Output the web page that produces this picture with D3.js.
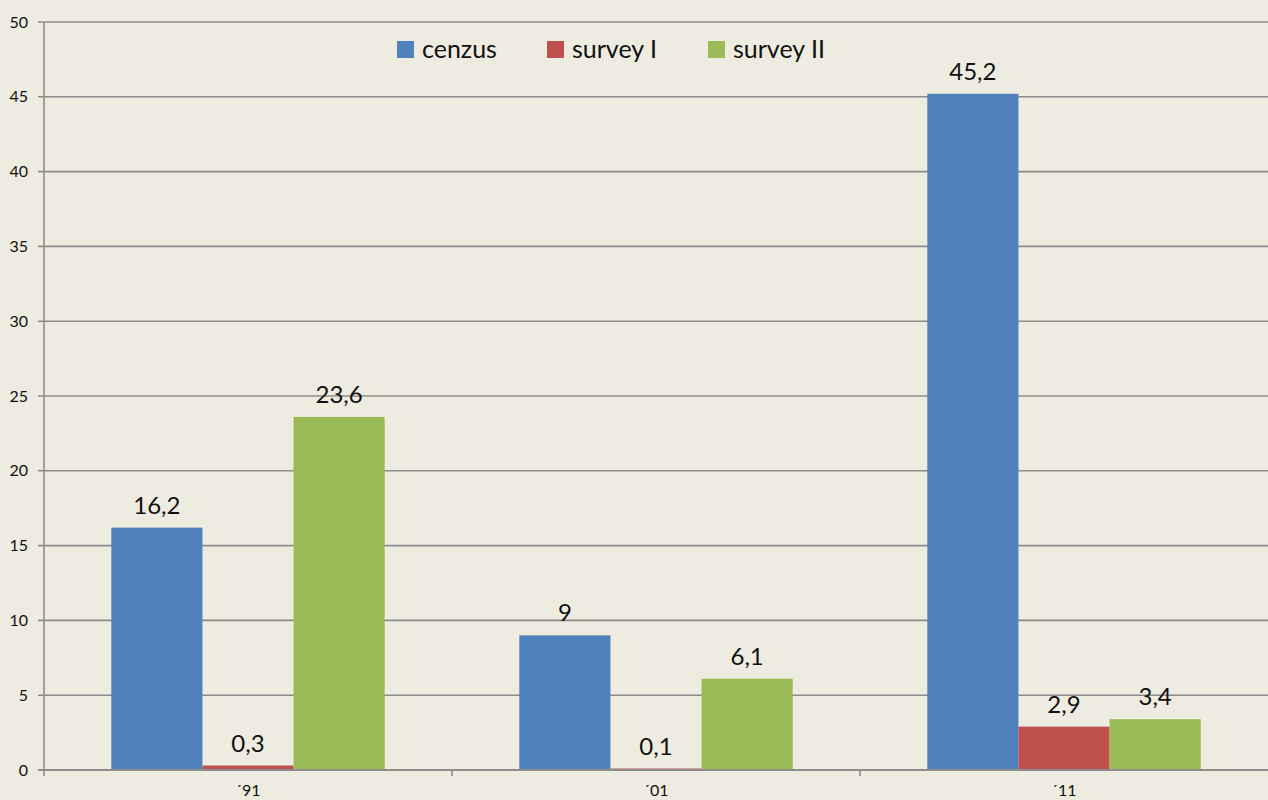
<!DOCTYPE html>
<html><head><meta charset="utf-8">
<script src="https://cdn.jsdelivr.net/npm/d3@7"></script>
<style>html,body{margin:0;padding:0;background:#EEEBE0;}svg{display:block;}</style>
</head><body>
<svg id="c" width="1268" height="800"></svg>
<script>
const categories = ["´91", "´01", "´11"];
const seriesNames = ["cenzus", "survey I", "survey II"];
const cenzus = [16.2, 9, 45.2];
const surveyI = [0.3, 0.1, 2.9];
const surveyII = [23.6, 6.1, 3.4];
const yTicks = [0, 5, 10, 15, 20, 25, 30, 35, 40, 45, 50];
const colors = ["#4F81BD", "#C0504D", "#9BBB59"];

const series = [cenzus, surveyI, surveyII];
const W = 1268, H = 800;
const m = {l: 44, r: 0, t: 22, b: 30};
const svg = d3.select("#c");
svg.append("rect").attr("width", W).attr("height", H).attr("fill", "#EEEBE0");

const x0 = d3.scaleBand().domain(categories).range([m.l, W - m.r]).paddingInner(0).paddingOuter(0);
const y = d3.scaleLinear().domain([0, 50]).range([H - m.b, m.t]);
const groupInner = 0.67;
const x1 = d3.scaleBand().domain(d3.range(series.length))
  .range([x0.bandwidth() * (1 - groupInner) / 2, x0.bandwidth() * (1 + groupInner) / 2]);

const fmt = v => String(v).replace(".", ",");
const font = "Lato, Open Sans, Liberation Sans, sans-serif";

// gridlines
svg.append("g").selectAll("line").data(yTicks).join("line")
  .attr("x1", m.l - 6).attr("x2", W).attr("y1", d => y(d)).attr("y2", d => y(d))
  .attr("stroke", "#8c8c8c").attr("stroke-width", 1.6);

// y labels
svg.append("g").selectAll("text").data(yTicks).join("text")
  .attr("x", 28).attr("y", d => y(d)).attr("dy", "0.35em")
  .attr("text-anchor", "end").attr("font-family", font).attr("font-size", 16).attr("fill", "#111")
  .text(d => d);

// bars
const g = svg.append("g");
series.forEach((s, si) => {
  g.selectAll(".b" + si).data(categories).join("rect")
    .attr("x", c => x0(c) + x1(si))
    .attr("width", x1.bandwidth())
    .attr("y", (c, i) => y(s[i]))
    .attr("height", (c, i) => y(0) - y(s[i]))
    .attr("fill", colors[si]);
  g.selectAll(".l" + si).data(categories).join("text")
    .attr("x", c => x0(c) + x1(si) + x1.bandwidth() / 2)
    .attr("y", (c, i) => y(s[i]) - 14)
    .attr("text-anchor", "middle").attr("font-family", font).attr("font-size", 24).attr("fill", "#111")
    .text((c, i) => fmt(s[i]));
});

// axes lines
svg.append("line").attr("x1", m.l).attr("x2", m.l).attr("y1", m.t).attr("y2", y(0) + 6)
  .attr("stroke", "#8c8c8c").attr("stroke-width", 1.6);
svg.append("line").attr("x1", m.l - 6).attr("x2", W).attr("y1", y(0)).attr("y2", y(0))
  .attr("stroke", "#8c8c8c").attr("stroke-width", 2);
svg.append("g").selectAll("line").data(categories.slice(1)).join("line")
  .attr("x1", c => x0(c)).attr("x2", c => x0(c)).attr("y1", y(0)).attr("y2", y(0) + 6)
  .attr("stroke", "#8c8c8c").attr("stroke-width", 1.6);

// x labels
svg.append("g").selectAll("text").data(categories).join("text")
  .attr("x", c => x0(c) + x0.bandwidth() / 2).attr("y", 796)
  .attr("text-anchor", "middle").attr("font-family", font).attr("font-size", 16).attr("fill", "#111")
  .text(c => c);

// legend
const legX = [397, 547, 708];
const leg = svg.append("g");
seriesNames.forEach((n, i) => {
  leg.append("rect").attr("x", legX[i]).attr("y", 41).attr("width", 17).attr("height", 17).attr("fill", colors[i]);
  leg.append("text").attr("x", legX[i] + 25).attr("y", 58).attr("font-family", font).attr("font-size", 25).attr("fill", "#111").text(n);
});
</script>
</body></html>
